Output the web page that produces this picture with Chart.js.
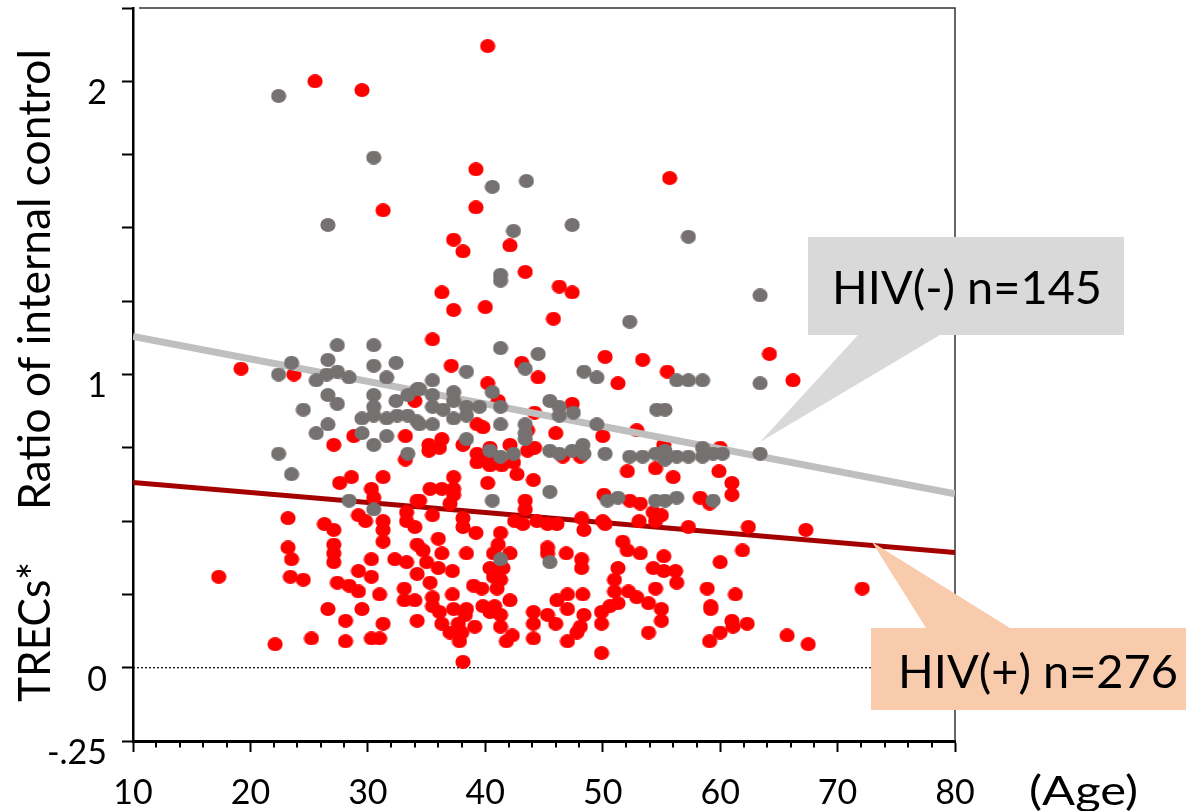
<!DOCTYPE html>
<html>
<head>
<meta charset="utf-8">
<title>TRECs by age</title>
<script src="https://cdn.jsdelivr.net/npm/chart.js@4.4.1/dist/chart.umd.min.js"></script>
<style>
  html, body { margin: 0; padding: 0; background: #fff; }
  canvas { display: block; }
</style>
</head>
<body>
<canvas id="chart" width="1186" height="811"></canvas>
<script>
// HIV-negative subjects: age (years) and TRECs ratio to internal control
const hivNegAge = [22.4,30.5,40.6,43.5,26.6,42.4,41.3,41.3,47.4,57.3,63.4,52.3,
  27.4,30.5,23.5,26.6,30.5,32.4,22.4,25.6,26.5,27.4,28.4,31.6,26.6,27.4,30.5,33.4,34.2,30.5,32.4,24.5,29.5,30.5,31.6,32.5,33.4,34.2,26.6,25.6,29.5,31.6,30.5,33.4,22.4,23.5,28.4,30.5,
  41.3,44.5,43.4,38.4,48.4,49.5,35.5,34.4,35.5,37.3,40.6,37.3,38.4,39.5,41.3,35.5,36.4,45.5,46.3,47.5,46.3,34.4,35.5,37.3,38.4,41.3,43.4,49.5,43.4,43.4,38.4,40.4,41.3,42.4,45.5,46.3,47.4,48.3,48.4,50.2,45.5,40.6,41.3,45.5,
  54.6,55.3,56.3,57.3,58.5,63.4,52.3,53.4,54.5,55.3,55.3,56.3,57.3,58.5,58.5,59.4,60.2,63.4,
  50.4,51.3,54.5,55.3,56.3,59.4];
const hivNegRatio = [1.95,1.74,1.64,1.66,1.51,1.49,1.34,1.32,1.51,1.47,1.27,1.18,
  1.10,1.10,1.04,1.05,1.03,1.04,1.00,0.98,1.00,1.01,0.99,0.99,0.93,0.90,0.93,0.93,0.95,0.89,0.91,0.88,0.85,0.86,0.85,0.86,0.86,0.84,0.83,0.80,0.80,0.79,0.76,0.73,0.73,0.66,0.57,0.54,
  1.09,1.07,1.02,1.01,1.01,0.99,0.98,0.95,0.93,0.94,0.94,0.91,0.89,0.89,0.89,0.89,0.88,0.91,0.89,0.87,0.86,0.83,0.83,0.85,0.86,0.83,0.83,0.83,0.80,0.78,0.78,0.74,0.72,0.73,0.74,0.73,0.74,0.76,0.73,0.73,0.60,0.57,0.37,0.36,
  0.88,0.88,0.98,0.98,0.98,0.97,0.72,0.72,0.73,0.74,0.71,0.72,0.72,0.75,0.72,0.73,0.73,0.73,
  0.57,0.58,0.57,0.57,0.58,0.57];

// HIV-positive subjects: age (years) and TRECs ratio to internal control
const hivPosAge = [40.2,25.5,29.5,39.2,31.3,39.2,37.3,38.1,42.1,43.4,36.3,37.3,40.0,45.8,55.7,46.3,47.4,
  19.2,23.7,34.0,28.8,33.2,27.1,33.2,27.6,28.6,31.3,30.3,30.5,34.2,
  33.3,23.2,29.2,29.8,26.3,27.1,31.3,31.3,33.3,31.3,23.2,23.5,27.1,27.1,27.1,30.3,32.3,33.3,
  17.3,23.4,24.5,29.2,30.3,27.4,28.4,29.2,31.0,33.1,33.1,26.6,29.5,28.1,31.3,22.1,25.2,28.1,30.3,31.0,
  35.5,50.2,37.1,43.1,44.5,40.2,41.1,47.4,44.2,39.3,39.8,43.6,50.0,46.0,35.2,36.3,38.1,42.1,44.2,43.6,
  35.2,36.1,39.3,40.4,39.3,40.2,41.4,42.4,46.6,48.1,40.4,42.7,37.3,40.2,44.1,35.3,36.3,37.3,
  50.1,34.4,37.3,37.0,34.0,35.5,38.1,38.1,39.2,43.4,43.4,42.5,43.2,44.4,45.3,46.1,48.2,48.4,50.0,41.3,
  34.2,36.0,41.1,34.7,36.3,38.4,40.7,42.1,45.3,45.3,46.9,48.2,48.2,35.0,34.2,36.0,37.2,40.4,41.5,40.7,41.3,35.3,39.0,39.7,41.0,
  34.0,35.5,37.2,35.5,37.3,38.4,39.8,40.8,42.1,36.1,38.3,40.4,41.3,46.1,47.0,48.3,47.0,48.4,49.9,50.6,44.1,45.3,44.1,46.0,48.1,49.9,
  34.2,36.3,37.7,41.3,37.0,38.0,39.1,42.3,37.8,41.8,44.1,47.0,47.8,38.1,49.9,
  53.4,64.2,66.2,55.5,51.3,52.9,55.2,60.0,52.1,54.5,56.0,59.9,61.0,52.3,53.2,58.3,59.1,61.0,
  50.2,53.1,54.3,55.0,54.5,57.3,62.4,67.3,51.7,52.1,53.2,55.2,61.9,60.0,51.3,54.3,55.2,56.2,56.3,51.0,
  51.0,52.2,52.9,54.5,51.3,53.9,55.0,58.9,61.3,59.2,59.2,55.0,53.9,61.0,61.1,62.3,60.0,59.1,65.7,67.5,72.1];
const hivPosRatio = [2.12,2.00,1.97,1.70,1.56,1.57,1.46,1.42,1.44,1.35,1.28,1.22,1.23,1.19,1.67,1.30,1.28,
  1.02,1.00,0.91,0.79,0.79,0.76,0.71,0.63,0.65,0.65,0.61,0.58,0.57,
  0.53,0.51,0.52,0.50,0.49,0.47,0.50,0.47,0.50,0.43,0.41,0.37,0.42,0.39,0.36,0.37,0.37,0.36,
  0.31,0.31,0.30,0.33,0.31,0.29,0.28,0.26,0.25,0.27,0.23,0.20,0.20,0.16,0.15,0.08,0.10,0.09,0.10,0.10,
  1.12,1.06,1.03,1.04,0.99,0.97,0.91,0.90,0.87,0.83,0.82,0.81,0.79,0.80,0.76,0.78,0.76,0.76,0.75,0.74,
  0.74,0.75,0.73,0.75,0.70,0.72,0.69,0.70,0.72,0.72,0.69,0.66,0.65,0.63,0.64,0.61,0.61,0.61,
  0.59,0.57,0.59,0.56,0.48,0.52,0.51,0.48,0.46,0.57,0.54,0.50,0.49,0.50,0.49,0.49,0.51,0.47,0.50,0.46,
  0.42,0.44,0.42,0.40,0.39,0.39,0.39,0.39,0.41,0.39,0.39,0.37,0.34,0.36,0.32,0.34,0.33,0.34,0.34,0.31,0.30,0.29,0.28,0.27,0.27,
  0.23,0.24,0.25,0.21,0.20,0.20,0.21,0.21,0.23,0.19,0.18,0.19,0.18,0.23,0.25,0.25,0.20,0.18,0.19,0.21,0.19,0.18,0.15,0.15,0.14,0.15,
  0.16,0.15,0.15,0.14,0.12,0.12,0.14,0.11,0.09,0.09,0.10,0.09,0.12,0.02,0.05,
  1.05,1.07,0.98,1.01,0.97,0.81,0.76,0.75,0.67,0.68,0.65,0.67,0.63,0.57,0.56,0.58,0.56,0.59,
  0.49,0.50,0.53,0.52,0.50,0.48,0.48,0.47,0.43,0.40,0.39,0.38,0.40,0.36,0.34,0.34,0.33,0.33,0.29,0.30,
  0.26,0.26,0.24,0.27,0.22,0.22,0.20,0.27,0.25,0.21,0.20,0.16,0.12,0.16,0.14,0.15,0.12,0.09,0.11,0.08,0.27];

// Linear trends (value at the two ends of the age range)
const trendAge = [10, 80];
const hivNegTrend = [1.13, 0.593];
const hivPosTrend = [0.632, 0.393];
const zeroRef = [0, 0];

// Axis ticks and text
const xTickLabels = [10, 20, 30, 40, 50, 60, 70, 80];
const yTickValues = [2, 1, 0, -0.25];
const yTickTexts = ['2', '1', '0', '-.25'];
const yTitleParts = ['TRECs*', 'Ratio of internal control'];
const xUnit = '(Age)';
const hivNegLabel = 'HIV(-) n=145';
const hivPosLabel = 'HIV(+) n=276';

const FONT = 'Lato';

function pairs(xs, ys) {
  const n = Math.min(xs.length, ys.length);
  const out = [];
  for (let i = 0; i < n; i++) out.push({ x: xs[i], y: ys[i] });
  return out;
}

// Slightly oval marker, as in the original figure
function dot(color) {
  const c = document.createElement('canvas');
  c.width = 16; c.height = 14;
  const g = c.getContext('2d');
  g.fillStyle = color;
  g.beginPath();
  g.ellipse(8, 7, 7.6, 6.9, 0, 0, Math.PI * 2);
  g.fill();
  return c;
}

// Draw text stretched/squeezed to a given advance width
function fitText(ctx, text, x, y, width, font, rot) {
  ctx.save();
  ctx.font = font;
  ctx.textAlign = 'left';
  ctx.textBaseline = 'alphabetic';
  ctx.translate(x, y);
  if (rot) ctx.rotate(rot);
  const w = ctx.measureText(text).width;
  ctx.scale(width / w, 1);
  ctx.fillText(text, 0, 0);
  ctx.restore();
}

function callout(ctx, color, box, tri) {
  ctx.fillStyle = color;
  ctx.fillRect(box[0], box[1], box[2], box[3]);
  ctx.beginPath();
  ctx.moveTo(tri[0][0], tri[0][1]);
  ctx.lineTo(tri[1][0], tri[1][1]);
  ctx.lineTo(tri[2][0], tri[2][1]);
  ctx.closePath();
  ctx.fill();
}

const decor = {
  id: 'decor',
  beforeDatasetsDraw(chart) {
    const { ctx, chartArea: a } = chart;
    ctx.save();
    ctx.strokeStyle = '#333';
    ctx.lineWidth = 1.5;
    ctx.beginPath();
    ctx.moveTo(a.left + 6, a.top);
    ctx.lineTo(a.right, a.top);
    ctx.lineTo(a.right, a.bottom);
    ctx.stroke();
    ctx.restore();
  },
  afterDraw(chart) {
    const { ctx, chartArea: a, scales: { x } } = chart;
    ctx.save();
    // minor ticks every 2 years
    ctx.strokeStyle = '#000';
    ctx.lineWidth = 2;
    x.ticks.forEach(t => {
      if (xTickLabels.includes(t.value)) return;
      const px = Math.round(x.getPixelForValue(t.value));
      ctx.beginPath();
      ctx.moveTo(px, a.bottom);
      ctx.lineTo(px, a.bottom + 6.5);
      ctx.stroke();
    });
    // callouts
    callout(ctx, '#d9d9d9', [808, 237, 316, 98], [[858, 335], [940, 335], [760, 442]]);
    callout(ctx, '#f8cbad', [871, 628, 315, 82], [[926, 628], [1010, 628], [872, 542]]);
    ctx.fillStyle = '#000';
    fitText(ctx, hivNegLabel, 832, 304, 270, '47px ' + FONT);
    fitText(ctx, hivPosLabel, 898, 688, 280, '47px ' + FONT);
    // axis titles
    fitText(ctx, yTitleParts[0], 50, 702, 140, '44px ' + FONT, -Math.PI / 2);
    fitText(ctx, yTitleParts[1], 50, 510, 461, '44px ' + FONT, -Math.PI / 2);
    fitText(ctx, xUnit, 1029, 805, 109, '40px ' + FONT);
    ctx.restore();
  }
};

new Chart(document.getElementById('chart'), {
  type: 'scatter',
  data: {
    datasets: [
      { label: 'HIV(-)', data: pairs(hivNegAge, hivNegRatio), pointStyle: dot('#767171'),
        pointRadius: 7, pointHoverRadius: 7, order: 0 },
      { label: 'HIV(-) trend', data: pairs(trendAge, hivNegTrend), showLine: true,
        borderColor: '#bfbfbf', borderWidth: 7, pointRadius: 0, order: 1 },
      { label: 'HIV(+)', data: pairs(hivPosAge, hivPosRatio), pointStyle: dot('#ff0000'),
        pointRadius: 7, pointHoverRadius: 7, order: 2 },
      { label: 'HIV(+) trend', data: pairs(trendAge, hivPosTrend), showLine: true,
        borderColor: '#a50000', borderWidth: 5, pointRadius: 0, order: 3 },
      { label: 'zero', data: pairs(trendAge, zeroRef), showLine: true,
        borderColor: '#000', borderWidth: 1.2, borderDash: [2, 2], pointRadius: 0, order: 4 }
    ]
  },
  options: {
    responsive: false,
    animation: false,
    devicePixelRatio: 1,
    events: [],
    layout: { padding: { top: 8, right: 231, bottom: 0, left: 0 } },
    plugins: { legend: { display: false }, tooltip: { enabled: false } },
    scales: {
      x: {
        type: 'linear', position: 'bottom', min: 10, max: 80,
        afterFit(s) { s.height = 70; s.paddingLeft = 0; s.paddingRight = 0; },
        border: { display: true, color: '#000', width: 3 },
        grid: {
          drawOnChartArea: false, drawTicks: true, tickLength: 11, tickWidth: 2,
          tickColor: c => (xTickLabels.includes(c.tick && c.tick.value) ? '#000' : 'rgba(0,0,0,0)')
        },
        ticks: {
          stepSize: 2, autoSkip: false, maxRotation: 0, minRotation: 0, padding: 21,
          color: '#000', font: { family: FONT, size: 34 },
          callback: v => (xTickLabels.includes(v) ? String(v) : '')
        }
      },
      y: {
        type: 'linear', position: 'left', min: -0.25, max: 2.25,
        afterFit(s) { s.width = 133; s.paddingTop = 0; s.paddingBottom = 0; },
        border: { display: true, color: '#000', width: 2.5 },
        grid: { drawOnChartArea: false, drawTicks: true, tickLength: 11, tickWidth: 2, tickColor: '#000' },
        ticks: {
          stepSize: 0.25, autoSkip: false, padding: 15, labelOffset: 12,
          color: '#000', font: { family: FONT, size: 34 },
          callback: v => {
            const k = yTickValues.findIndex(t => Math.abs(t - v) < 1e-6);
            return k >= 0 ? yTickTexts[k] : '';
          }
        }
      }
    }
  },
  plugins: [decor]
});
</script>
</body>
</html>
